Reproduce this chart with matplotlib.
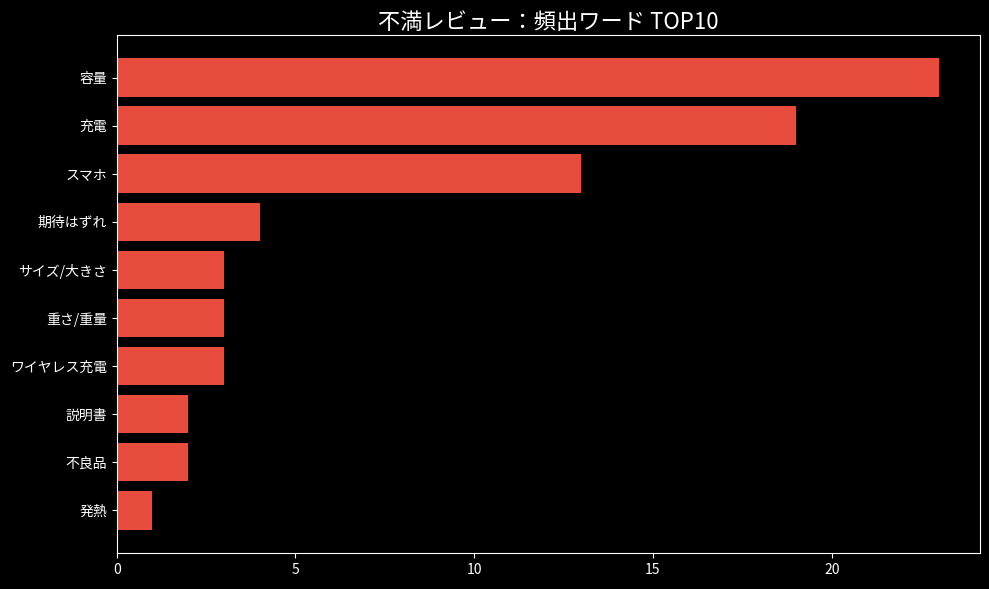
import matplotlib.pyplot as plt

plt.style.use('dark_background')
plt.rcParams['font.family'] = ['Noto Sans CJK JP', 'DejaVu Sans']

words = ['容量', '充電', 'スマホ', '期待はずれ', 'サイズ/大きさ', '重さ/重量',
         'ワイヤレス充電', '説明書', '不良品', '発熱']
counts = [23, 19, 13, 4, 3, 3, 3, 2, 2, 1]


def main():
    fig, ax = plt.subplots(figsize=(9.89, 5.89), dpi=100)
    ax.barh(words[::-1], counts[::-1], color='#e74c3c')
    ax.set_title('不満レビュー：頻出ワード TOP10', fontsize=16, pad=4)
    fig.subplots_adjust(left=0.118, right=0.991, top=0.941, bottom=0.061)
    plt.savefig('out.png')


if __name__ == '__main__':
    main()
